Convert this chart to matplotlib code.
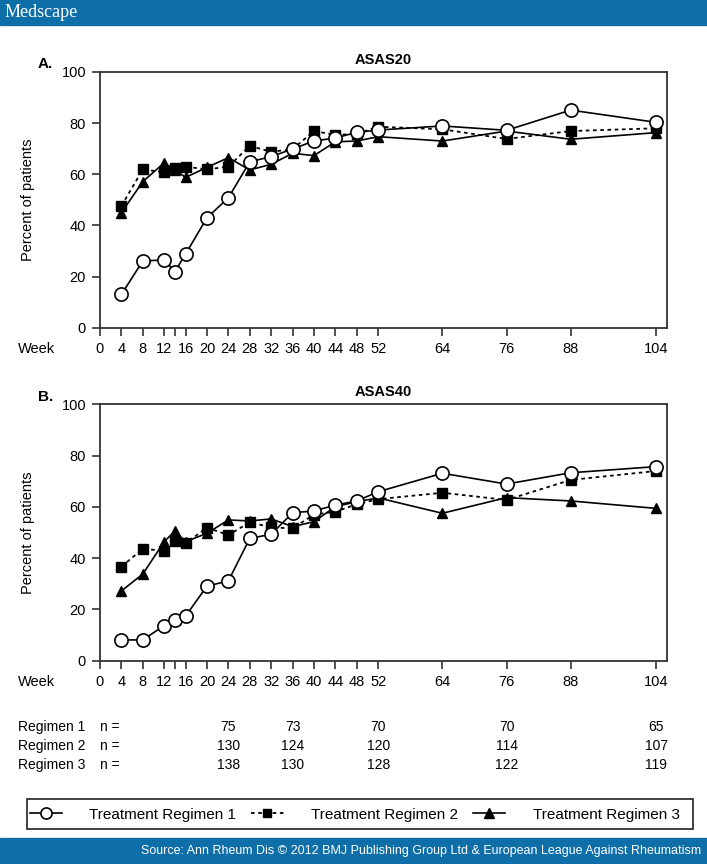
import matplotlib
matplotlib.use("Agg")
import matplotlib.pyplot as plt
import matplotlib.transforms as mtransforms
from matplotlib.lines import Line2D
from matplotlib.patches import Rectangle

plt.rcParams["font.family"] = ["Liberation Sans", "DejaVu Sans"]

# ---- data ----
weeks = [4, 8, 12, 14, 16, 20, 24, 28, 32, 36, 40, 44, 48, 52, 64, 76, 88, 104]

asas20_r1 = [13.0, 26.1, 26.5, 21.9, 28.8, 43.0, 50.8, 64.9, 66.9, 69.9, 73.0, 74.2, 76.4, 77.3, 78.9, 77.2, 85.1, 80.3]
asas20_r2 = [47.6, 61.9, 60.8, 62.3, 63.0, 61.9, 63.0, 71.1, 68.8, 69.8, 76.9, 75.4, 75.8, 78.6, 77.6, 73.8, 76.9, 78.0]
asas20_r3 = [45.0, 57.1, 64.5, 61.7, 58.8, 62.7, 66.5, 61.7, 63.9, 68.2, 67.3, 72.7, 73.0, 74.7, 73.0, 76.9, 73.7, 76.3]

asas40_r1 = [8.1, 8.1, 13.7, 15.8, 17.4, 29.1, 31.1, 47.7, 49.3, 57.7, 58.4, 60.7, 62.3, 65.9, 73.1, 68.9, 73.3, 75.7]
asas40_r2 = [36.7, 43.6, 42.9, 46.8, 45.8, 51.9, 49.0, 54.0, 52.0, 51.6, 57.0, 58.1, 61.0, 63.0, 65.5, 62.7, 70.5, 74.0]
asas40_r3 = [27.2, 33.8, 46.4, 50.6, 46.4, 49.7, 54.9, 54.5, 55.3, 52.3, 54.2, 60.1, 62.0, 63.5, 57.5, 63.6, 62.3, 59.4]

xtick_pos = [0, 4, 8, 12, 14, 16, 20, 24, 28, 32, 36, 40, 44, 48, 52, 64, 76, 88, 104]
xtick_lab = ["0", "4", "8", "12", "", "16", "20", "24", "28", "32", "36", "40",
             "44", "48", "52", "64", "76", "88", "104"]
yticks = [0, 20, 40, 60, 80, 100]

n_weeks = [24, 36, 52, 76, 104]
n_r1 = [75, 73, 70, 70, 65]
n_r2 = [130, 124, 120, 114, 107]
n_r3 = [138, 130, 128, 122, 119]

reg_names = ["Treatment Regimen 1", "Treatment Regimen 2", "Treatment Regimen 3"]

W, H = 707, 864
BLUE = "#0d6ea8"
AX_COL = "#333333"

fig = plt.figure(figsize=(W / 100, H / 100), dpi=100)


def fx(px):
    return px / W


def fy(py):
    return 1 - py / H


styles = [
    dict(color="black", ls="-", lw=1.2, marker="o", ms=9.5, mfc="white",
         mec="black", mew=1.2, zorder=5),
    dict(color="black", ls=(0, (2.0, 2.0)), lw=1.3, marker="s", ms=6.5,
         mfc="black", mec="black", zorder=4),
    dict(color="black", ls="-", lw=1.2, marker="^", ms=7.5, mfc="black",
         mec="black", zorder=3),
]


def panel(ax, series, title, letter):
    for ys, st in zip(series, styles):
        ax.plot(weeks, ys, clip_on=False, **st)
    ax.set_xlim(0, 106)
    ax.set_ylim(0, 100)
    ax.set_xticks(xtick_pos)
    ax.set_xticklabels(xtick_lab)
    ax.set_yticks(yticks)
    ax.tick_params(direction="out", length=6, width=1.2, color=AX_COL,
                   labelsize=10.5, pad=4)
    for sp in ax.spines.values():
        sp.set_linewidth(1.3)
        sp.set_color(AX_COL)
    ax.set_ylabel("Percent of patients", fontsize=10.5, labelpad=19)
    ax.set_title(title, fontsize=10.5, fontweight="bold", pad=6)
    ax.text(-0.11, 1.03, letter, transform=ax.transAxes, fontsize=11,
            fontweight="bold", ha="left", va="center")
    ax.text(-0.145, -0.085, "Week", transform=ax.transAxes, fontsize=10.5,
            ha="left", va="center")


axA = fig.add_axes([fx(100), fy(327.7), fx(567), 255.7 / H])
axB = fig.add_axes([fx(100), fy(660.7), fx(567), 256.4 / H])
panel(axA, [asas20_r1, asas20_r2, asas20_r3], "ASAS20", "A.")
panel(axB, [asas40_r1, asas40_r2, asas40_r3], "ASAS40", "B.")

# numbers at risk, aligned with the week axis of panel B
trans = mtransforms.blended_transform_factory(axB.transData, fig.transFigure)
for row_y, lab, vals in zip([727, 746, 765],
                            ["Regimen 1", "Regimen 2", "Regimen 3"],
                            [n_r1, n_r2, n_r3]):
    fig.text(fx(18), fy(row_y), lab, fontsize=10, ha="left", va="center")
    fig.text(fx(100), fy(row_y), "n =", fontsize=10, ha="left", va="center")
    for wk, v in zip(n_weeks, vals):
        fig.text(wk, fy(row_y), str(v), transform=trans, fontsize=10,
                 ha="center", va="center")

# legend: frame drawn by hand, items packed from the left
fig.patches.append(Rectangle((fx(27), fy(829)), fx(666), 30 / H,
                             transform=fig.transFigure, fill=False,
                             edgecolor=AX_COL, linewidth=1.3, zorder=2))
handles = [Line2D([], [], **{k: v for k, v in st.items() if k != "zorder"})
           for st in styles]
handles[0].set_markersize(8)
handles[1].set_markersize(5.5)
handles[2].set_markersize(7)
leg = fig.legend(handles, reg_names, loc="center left", ncol=3,
                 bbox_to_anchor=(fx(25), fy(814.5)),
                 fontsize=11, handlelength=2.1, handletextpad=1.8,
                 borderaxespad=0, frameon=False, borderpad=0.3,
                 columnspacing=1.0)

# header and footer bars
fig.patches.append(Rectangle((0, fy(25)), 1, 25 / H, transform=fig.transFigure,
                             color=BLUE, zorder=0))
fig.patches.append(Rectangle((0, 0), 1, 26 / H, transform=fig.transFigure,
                             color=BLUE, zorder=0))
fig.text(fx(5), fy(12.5), "Medscape", family="Liberation Serif", fontsize=13,
         color="white", ha="left", va="center")
fig.text(fx(701), fy(851), "Source: Ann Rheum Dis \u00a9 2012 BMJ Publishing Group Ltd "
         "& European League Against Rheumatism", fontsize=9, color="white",
         ha="right", va="center")

fig.savefig("out.png", dpi=100)
